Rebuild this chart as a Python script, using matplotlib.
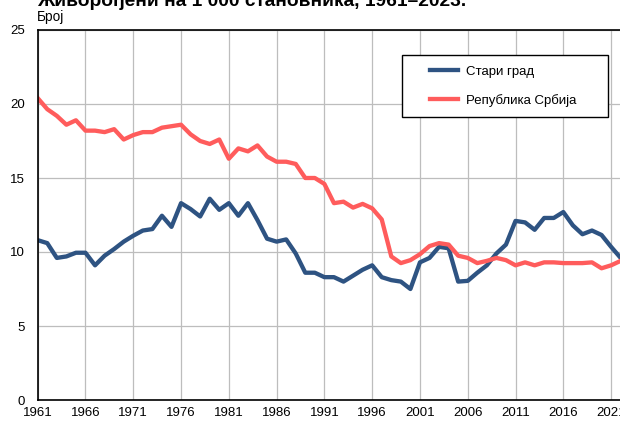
import numpy as np
import matplotlib
matplotlib.use('Agg')
import matplotlib.pyplot as plt
from matplotlib.legend_handler import HandlerLine2D

plt.rcParams['font.family'] = ['Liberation Sans', 'DejaVu Sans']

years = list(range(1961, 2023))

# Стари град, живорођени на 1 000 становника
stari_grad = [
    10.8, 10.6, 9.6, 9.7, 9.95, 9.95, 9.1, 9.75, 10.2, 10.7,
    11.1, 11.45, 11.55, 12.45, 11.7, 13.3, 12.9, 12.4, 13.6, 12.85,
    13.3, 12.45, 13.3, 12.15, 10.9, 10.7, 10.85, 9.9, 8.6, 8.6,
    8.3, 8.3, 8.0, 8.4, 8.8, 9.1, 8.3, 8.1, 8.0, 7.5,
    9.3, 9.6, 10.35, 10.25, 8.0, 8.05, 8.6, 9.1, 9.9, 10.5,
    12.1, 12.0, 11.5, 12.3, 12.3, 12.7, 11.8, 11.2, 11.45, 11.15,
    10.35, 9.6,
]

# Република Србија
srbija = [
    20.4, 19.65, 19.2, 18.6, 18.9, 18.2, 18.2, 18.1, 18.3, 17.6,
    17.9, 18.1, 18.1, 18.4, 18.5, 18.6, 17.95, 17.5, 17.3, 17.6,
    16.3, 17.0, 16.8, 17.2, 16.45, 16.1, 16.1, 15.95, 15.0, 15.0,
    14.6, 13.3, 13.4, 13.0, 13.25, 12.95, 12.2, 9.7, 9.25, 9.45,
    9.85, 10.4, 10.6, 10.5, 9.75, 9.6, 9.25, 9.4, 9.6, 9.45,
    9.1, 9.3, 9.1, 9.3, 9.3, 9.25, 9.25, 9.25, 9.3, 8.9,
    9.1, 9.4,
]

xticks = list(range(1961, 2022, 5))
yticks = [0, 5, 10, 15, 20, 25]

blue = '#2e5382'
red = '#ff5c5c'


class OffsetLine(HandlerLine2D):
    # legend line drawn only on the right part of the handle box
    def get_xdata(self, legend, xdescent, ydescent, width, height, fontsize):
        x = np.array([-xdescent + 0.39 * width, -xdescent + width])
        return x, x


fig = plt.figure(figsize=(6.2, 4.23), dpi=100)
W, H = 620, 423
ax = fig.add_axes([37.7 / W, 23 / H, 592.5 / W, 370 / H])

ax.plot(years, stari_grad, color=blue, lw=3.1, label='Стари град', solid_joinstyle='round')
ax.plot(years, srbija, color=red, lw=3.1, label='Република Србија', solid_joinstyle='round')

ax.set_xlim(1961, 2023)
ax.set_ylim(0, 25)
ax.set_xticks(xticks)
ax.set_yticks(yticks)
ax.tick_params(length=0, labelsize=9.5, colors='black')
ax.tick_params(axis='y', pad=9)
ax.tick_params(axis='x', pad=5)
ax.grid(True, color='#bdbdbd', lw=0.9)
ax.set_axisbelow(True)
for side in ['left', 'bottom', 'top', 'right']:
    ax.spines[side].set_color('black')
    ax.spines[side].set_linewidth(1.2)

# title sits partly above the top edge, as in the source image
fig.text(37 / W, 1 - 5.5 / H, 'Живорођени на 1 000 становника, 1961–2023.',
         fontsize=13.8, fontweight='bold', va='baseline', ha='left')
fig.text(37 / W, 1 - 21 / H, 'Број', fontsize=9.8, va='baseline', ha='left')

leg_h = 61.7
ax.legend(loc='upper left',
          bbox_to_anchor=(401.7 / W, 1 - (55 + leg_h) / H, 206.3 / W, leg_h / H),
          bbox_transform=fig.transFigure, mode='expand',
          fontsize=9.5, frameon=True, fancybox=False, edgecolor='black',
          framealpha=1, borderaxespad=0, borderpad=0.8, labelspacing=1.2,
          handlelength=3.5, handletextpad=0.55,
          handler_map={matplotlib.lines.Line2D: OffsetLine()})
ax.get_legend().get_frame().set_linewidth(1.0)

fig.savefig('out.png', dpi=100)
